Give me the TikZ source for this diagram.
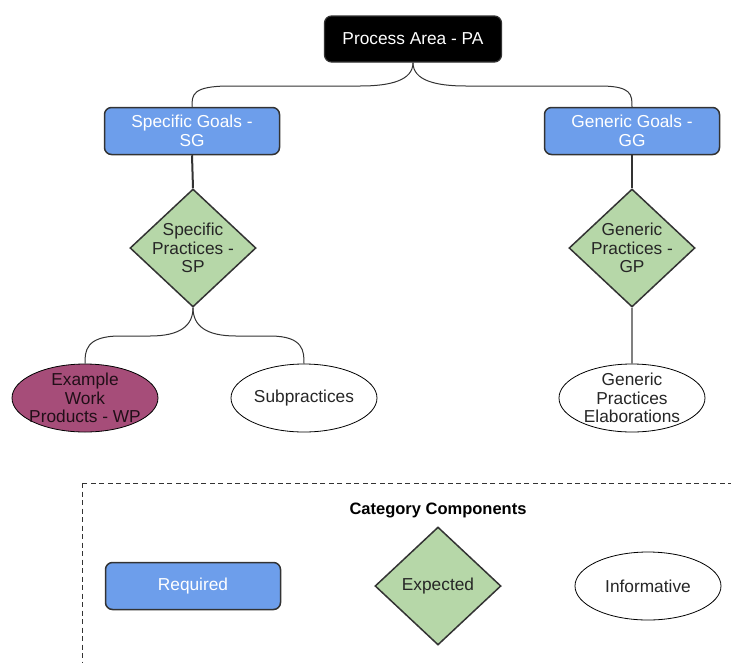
\documentclass[tikz,border=0pt]{standalone}
\usepackage{fontspec}
\setmainfont{Liberation Sans}
\usetikzlibrary{shapes.geometric}
\definecolor{reqblue}{HTML}{6D9EEB}
\definecolor{expgreen}{HTML}{B6D7A8}
\definecolor{wpred}{HTML}{A64D79}
\definecolor{edge}{HTML}{333333}
\begin{document}
\begin{tikzpicture}[x=1pt,y=-1pt,
  base/.style={font=\fontsize{17.3}{18.5}\selectfont, align=center, inner sep=0pt},
  reqbox/.style={base, draw=edge, line width=1.5pt, rounded corners=7pt, fill=reqblue, text=white, minimum width=175pt, minimum height=47pt},
  blackbox/.style={base, draw=edge, line width=1.2pt, rounded corners=7pt, fill=black, text=white, minimum width=177pt, minimum height=46pt},
  expdia/.style={diamond, draw=edge, line width=1.5pt, fill=expgreen, minimum width=126pt, minimum height=118pt, inner sep=0pt},
  infell/.style={ellipse, draw=black, line width=0.8pt, fill=white, minimum width=146pt, minimum height=68pt, inner sep=0pt},
  inner/.style={base, text=black!85},
  link/.style={draw=edge, line width=1pt},
  thick link/.style={draw=edge, line width=2pt}
]
\useasboundingbox (0,0) rectangle (731,662);
\fill[white] (0,0) rectangle (731,662);

% top
\node[blackbox] (pa) at (413,39) {Process Area - PA};
\node[reqbox] (sg) at (192,131) {Specific Goals -\\SG};
\node[reqbox] (gg) at (632,131) {Generic Goals -\\GG};

\node[expdia] (sp) at (193,248) {};
\node[inner] (spt) at (sp.center) {Specific\\Practices -\\SP};
\node[expdia] (gp) at (632,248) {};
\node[inner] (gpt) at (gp.center) {Generic\\Practices -\\GP};

\node[ellipse, draw=black, line width=0.8pt, fill=wpred, minimum width=146pt, minimum height=68pt, inner sep=0pt] (wp) at (85,398) {};
\node[inner, text=black!80!wpred] (wpt) at (wp.center) {Example\\Work\\Products - WP};
\node[infell] (sub) at (304,398) {};
\node[inner] (subt) at (sub.center) {Subpractices};
\node[infell] (gpe) at (632,398) {};
\node[inner] (gpet) at (gpe.center) {Generic\\Practices\\Elaborations};

% connectors
\path[link] (pa.south) .. controls +(0,18) and +(30,0) .. (360,86) -- (230,86) .. controls +(-38,0) and +(0,-12) .. (sg.north);
\path[link] (pa.south) .. controls +(0,18) and +(-30,0) .. (466,86) -- (600,86) .. controls +(32,0) and +(0,-12) .. (gg.north);
\path[thick link] (sg.south) -- (sp.north);
\path[thick link] (gg.south) -- (gp.north);
\path[link] (sp.south) .. controls +(0,18) and +(30,0) .. (150,336) -- (120,336) .. controls +(-35,0) and +(0,-12) .. (wp.north);
\path[link] (sp.south) .. controls +(0,18) and +(-30,0) .. (236,336) -- (270,336) .. controls +(34,0) and +(0,-12) .. (sub.north);
\path[draw=gray, line width=1.2pt] (gp.south) -- (gpe.north);

% legend
\begin{scope}
\clip (0,0) rectangle (731,662);
\draw[dash pattern=on 5pt off 3.5pt, line width=1pt, draw=edge] (82,483) rectangle (760,700);
\end{scope}
\node[font=\fontsize{16.5}{18}\selectfont\bfseries, inner sep=0pt] (cat) at (438,510) {Category Components};
\node[reqbox] (req) at (193,586) {Required};
\node[expdia] (exp) at (438,586) {};
\node[inner] (expt) at (exp.center) {Expected};
\node[infell] (inf) at (648,586) {};
\node[inner] (inft) at (inf.center) {Informative};
\end{tikzpicture}
\end{document}
